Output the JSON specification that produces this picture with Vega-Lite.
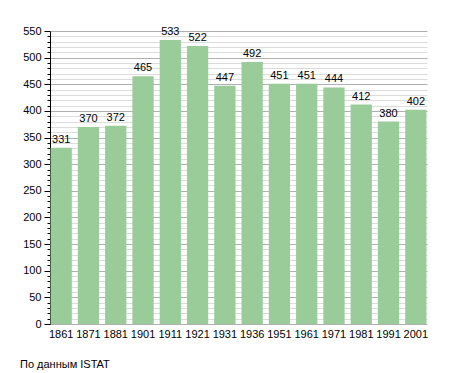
{
  "$schema": "https://vega.github.io/schema/vega-lite/v6.json",
  "autosize": "none",
  "width": 377,
  "height": 293,
  "padding": {"left": 50, "top": 31, "right": 28, "bottom": 49},
  "background": "white",
  "config": {"view": {"stroke": null}, "font": "Liberation Sans"},
  "title": {"text": "По данным ISTAT", "orient": "bottom", "anchor": "start", "frame": "group", "dx": -30, "offset": 20, "fontSize": 11, "fontWeight": "normal", "color": "black", "font": "Liberation Sans"},
  "data": {"values": [
    {"year": "1861", "pop": 331},
    {"year": "1871", "pop": 370},
    {"year": "1881", "pop": 372},
    {"year": "1901", "pop": 465},
    {"year": "1911", "pop": 533},
    {"year": "1921", "pop": 522},
    {"year": "1931", "pop": 447},
    {"year": "1936", "pop": 492},
    {"year": "1951", "pop": 451},
    {"year": "1961", "pop": 451},
    {"year": "1971", "pop": 444},
    {"year": "1981", "pop": 412},
    {"year": "1991", "pop": 380},
    {"year": "2001", "pop": 402}
  ]},
  "encoding": {
    "x": {"field": "year", "type": "ordinal", "sort": null,
      "scale": {"paddingInner": 0.22, "paddingOuter": 0.02},
      "axis": {"title": null, "labelAngle": 0, "labelFontSize": 11, "labelColor": "black", "ticks": false, "domain": false, "labelPadding": 4}},
    "y": {"field": "pop", "type": "quantitative",
      "scale": {"domain": [0, 550], "nice": false},
      "axis": {"title": null,
        "values": [0,10,20,30,40,50,60,70,80,90,100,110,120,130,140,150,160,170,180,190,200,210,220,230,240,250,260,270,280,290,300,310,320,330,340,350,360,370,380,390,400,410,420,430,440,450,460,470,480,490,500,510,520,530,540,550],
        "labelExpr": "datum.value % 50 === 0 ? datum.label : ''",
        "labelFontSize": 11, "labelColor": "black", "labelPadding": 3,
        "tickColor": "black",
        "tickSize": {"condition": {"test": "datum.value % 50 === 0", "value": 6}, "value": 3},
        "domainColor": "black",
        "grid": true,
        "gridColor": {"condition": {"test": "datum.value % 50 === 0", "value": "#b0b0b0"}, "value": "#dcdcdc"},
        "gridWidth": 1}}
  },
  "layer": [
    {"mark": {"type": "bar", "color": "#99cc99"}},
    {"mark": {"type": "text", "baseline": "bottom", "dy": -3, "fontSize": 11, "color": "black"},
     "encoding": {"text": {"field": "pop", "type": "quantitative"}}}
  ]
}
